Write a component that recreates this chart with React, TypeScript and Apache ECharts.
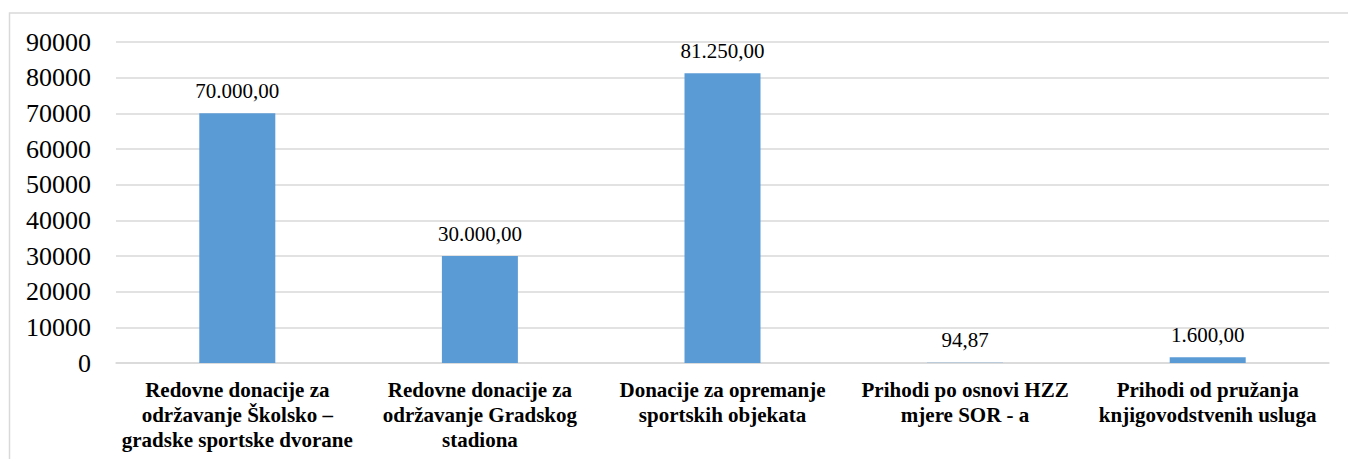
import React, { useEffect, useRef } from "react";
import * as echarts from "echarts";

const categories = [
  "Redovne donacije za\nodržavanje Školsko –\ngradske sportske dvorane",
  "Redovne donacije za\nodržavanje Gradskog\nstadiona",
  "Donacije za opremanje\nsportskih objekata",
  "Prihodi po osnovi HZZ\nmjere SOR - a",
  "Prihodi od pružanja\nknjigovodstvenih usluga",
];
const values = [70000, 30000, 81250, 94.87, 1600];
const yMin = 0;
const yMax = 90000;
const yInterval = 10000;

function formatHr(v: number): string {
  const fixed = v.toFixed(2);
  const [intPart, dec] = fixed.split(".");
  const withDots = intPart.replace(/\B(?=(\d{3})+(?!\d))/g, ".");
  return withDots + "," + dec;
}

export default function App() {
  const ref = useRef<HTMLDivElement>(null);
  useEffect(() => {
    document.body.style.margin = "0";
    if (!ref.current) return;
    const chart = echarts.init(ref.current, undefined, { renderer: "svg" });
    const font = "Liberation Serif";
    chart.setOption({
      animation: false,
      backgroundColor: "#ffffff",
      textStyle: { fontFamily: font },
      graphic: [
        {
          type: "rect",
          shape: { x: 9.5, y: 13, width: 1400, height: 500 },
          style: { fill: "none", stroke: "#d9d9d9", lineWidth: 1.5 },
          silent: true,
        },
      ],
      grid: { left: 116, right: 19, top: 42, bottom: 96, containLabel: false },
      xAxis: {
        type: "category",
        data: categories,
        axisLine: { show: true, lineStyle: { color: "#d9d9d9", width: 1.5 } },
        axisTick: { show: false },
        axisLabel: {
          interval: 0,
          margin: 14,
          color: "#000000",
          fontFamily: font,
          fontSize: 21,
          fontWeight: "bold",
          lineHeight: 25,
        },
      },
      yAxis: {
        type: "value",
        min: yMin,
        max: yMax,
        interval: yInterval,
        axisLine: { show: false },
        axisTick: { show: false },
        splitLine: { lineStyle: { color: "#d9d9d9", width: 1.5 } },
        axisLabel: {
          margin: 25,
          color: "#000000",
          fontFamily: font,
          fontSize: 26,
          formatter: (v: number) => String(v),
        },
      },
      series: [
        {
          type: "bar",
          data: values,
          barWidth: 76,
          itemStyle: { color: "#5b9bd5" },
          label: {
            show: true,
            position: "top",
            distance: 12,
            color: "#000000",
            fontFamily: font,
            fontSize: 21,
            formatter: (p: any) => formatHr(p.value as number),
          },
        },
      ],
    });
    return () => chart.dispose();
  }, []);
  return <div ref={ref} style={{ width: 1348, height: 459 }} />;
}
